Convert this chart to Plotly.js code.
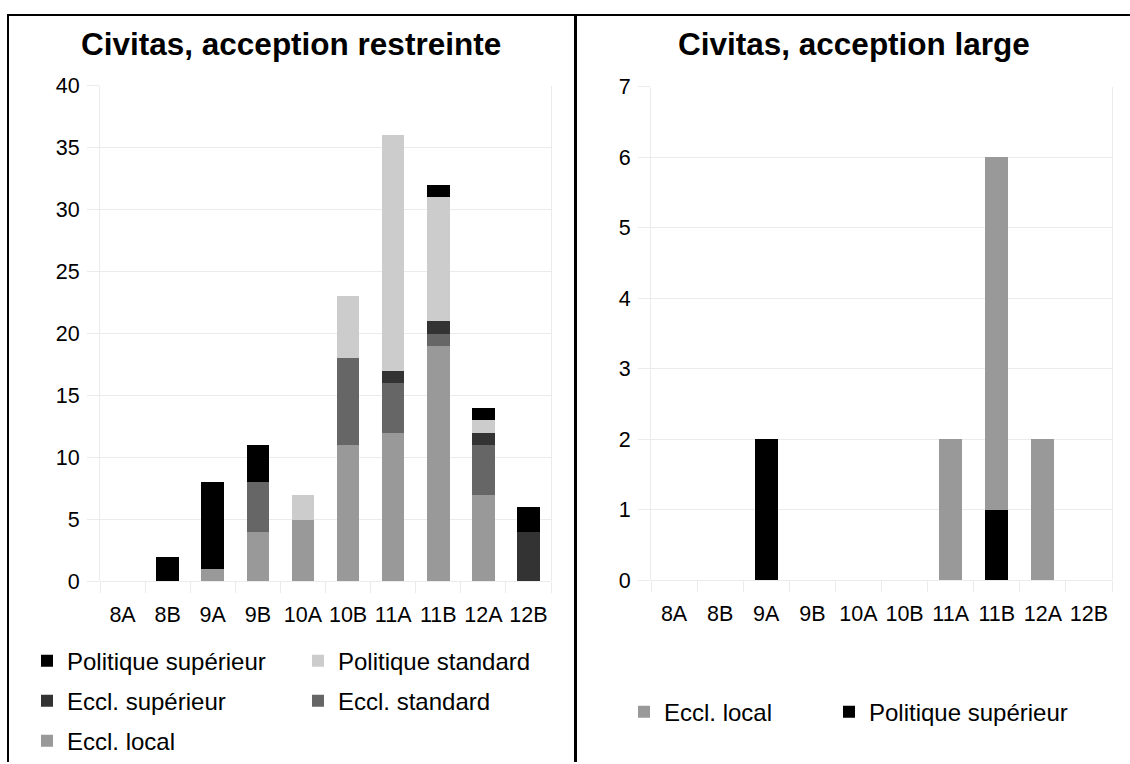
<!DOCTYPE html>
<html>
<head>
<meta charset="utf-8">
<script src="https://cdn.plot.ly/plotly-3.0.1.min.js"></script>
<style>
html,body{margin:0;padding:0;background:#fff;}
#chart{width:1130px;height:764px;}
</style>
</head>
<body>
<div id="chart"></div>
<script>
// ---- data ----
const categories = ['8A','8B','9A','9B','10A','10B','11A','11B','12A','12B'];

// Left chart: Civitas, acception restreinte
const ecclLocal    = [0,0,1,4,5,11,12,19,7,0];
const ecclStandard = [0,0,0,4,0,7,4,1,4,0];
const ecclSup      = [0,0,0,0,0,0,1,1,1,4];
const polStandard  = [0,0,0,0,2,5,19,10,1,0];
const polSup       = [0,2,7,3,0,0,0,1,1,2];

// Right chart: Civitas, acception large
const largePolSup    = [0,0,2,0,0,0,0,1,0,0];
const largeEcclLocal = [0,0,0,0,0,0,2,5,2,0];

const names = {
  polSup: 'Politique supérieur',
  polStd: 'Politique standard',
  ecclSup: 'Eccl. supérieur',
  ecclStd: 'Eccl. standard',
  ecclLocal: 'Eccl. local'
};
const titles = ['Civitas, acception restreinte', 'Civitas, acception large'];

const colors = {
  polSup: '#000000',
  polStd: '#cccccc',
  ecclSup: '#333333',
  ecclStd: '#666666',
  ecclLocal: '#999999'
};

const W = 1130, H = 764;
const px = v => v / W;
const py = v => 1 - v / H;
const FONT = 'Liberation Sans, Arial, sans-serif';

function bar(y, name, color, xa, ya, legend) {
  return {
    type: 'bar', x: categories, y: y, name: name,
    marker: {color: color, line: {width: 0}},
    xaxis: xa, yaxis: ya, legend: legend, hoverinfo: 'x+y+name'
  };
}

const traces = [
  bar(ecclLocal, names.ecclLocal, colors.ecclLocal, 'x', 'y', 'legend5'),
  bar(ecclStandard, names.ecclStd, colors.ecclStd, 'x', 'y', 'legend4'),
  bar(ecclSup, names.ecclSup, colors.ecclSup, 'x', 'y', 'legend3'),
  bar(polStandard, names.polStd, colors.polStd, 'x', 'y', 'legend2'),
  bar(polSup, names.polSup, colors.polSup, 'x', 'y', 'legend'),
  bar(largePolSup, names.polSup, colors.polSup, 'x2', 'y2', 'legend7'),
  bar(largeEcclLocal, names.ecclLocal, colors.ecclLocal, 'x2', 'y2', 'legend6')
];

const gridC = '#ebebeb';
const TICKFONT = {family: FONT, size: 21.5, color: '#000'};
function xax(domain, anchor) {
  return {
    domain: domain, anchor: anchor, type: 'category',
    ticks: 'outside', tickson: 'boundaries', ticklen: 11, tickcolor: gridC, tickwidth: 1,
    showgrid: false, showline: false, zeroline: false, tickangle: 0,
    tickfont: TICKFONT,
    ticklabelstandoff: 18, fixedrange: true
  };
}
function yax(domain, anchor, max, dtick) {
  return {
    domain: domain, anchor: anchor, range: [0, max], dtick: dtick,
    ticks: 'outside', ticklen: 12, tickcolor: gridC, tickwidth: 1,
    showgrid: true, gridcolor: gridC, gridwidth: 1,
    zeroline: true, zerolinecolor: gridC, zerolinewidth: 1,
    showline: true, mirror: true, linecolor: gridC, linewidth: 1,
    tickfont: TICKFONT,
    ticklabelstandoff: 3, fixedrange: true
  };
}

function legendObj(x, y) {
  return {
    orientation: 'h', x: px(x), y: py(y), xanchor: 'left', yanchor: 'middle',
    font: {family: FONT, size: 24, color: '#000'},
    bgcolor: 'rgba(0,0,0,0)', borderwidth: 0, itemclick: false, itemdoubleclick: false
  };
}

const layout = {
  width: W, height: H,
  margin: {l: 0, r: 0, t: 0, b: 0, pad: 0},
  paper_bgcolor: '#ffffff', plot_bgcolor: '#ffffff',
  barmode: 'stack', bargap: 0.5,
  font: {family: FONT, color: '#000'},
  showlegend: true,
  xaxis: xax([px(100), px(551)], 'y'),
  yaxis: yax([py(583), py(86)], 'x', 40, 5),
  xaxis2: xax([px(651), px(1112)], 'y2'),
  yaxis2: yax([py(582), py(87)], 'x2', 7, 1),
  legend:  legendObj(27, 663),
  legend2: legendObj(298, 663),
  legend3: legendObj(27, 703),
  legend4: legendObj(298, 703),
  legend5: legendObj(27, 743),
  legend6: legendObj(624, 714),
  legend7: legendObj(829, 714),
  annotations: [
    {text: '<b>' + titles[0] + '</b>', xref: 'paper', yref: 'paper', x: px(291), y: py(44),
     xanchor: 'center', yanchor: 'middle', showarrow: false,
     font: {family: FONT, size: 31.5, color: '#000'}},
    {text: '<b>' + titles[1] + '</b>', xref: 'paper', yref: 'paper', x: px(854), y: py(44),
     xanchor: 'center', yanchor: 'middle', showarrow: false,
     font: {family: FONT, size: 31.5, color: '#000'}}
  ],
  shapes: [
    {type: 'line', xref: 'paper', yref: 'paper', x0: px(7), x1: 1, y0: py(15), y1: py(15), line: {color: '#000', width: 2}},
    {type: 'line', xref: 'paper', yref: 'paper', x0: px(8), x1: px(8), y0: py(14), y1: 0, line: {color: '#000', width: 2}},
    {type: 'line', xref: 'paper', yref: 'paper', x0: px(575.5), x1: px(575.5), y0: py(14), y1: 0, line: {color: '#000', width: 3}}
  ]
};

Plotly.newPlot('chart', traces, layout, {displayModeBar: false, responsive: false});
</script>
</body>
</html>
